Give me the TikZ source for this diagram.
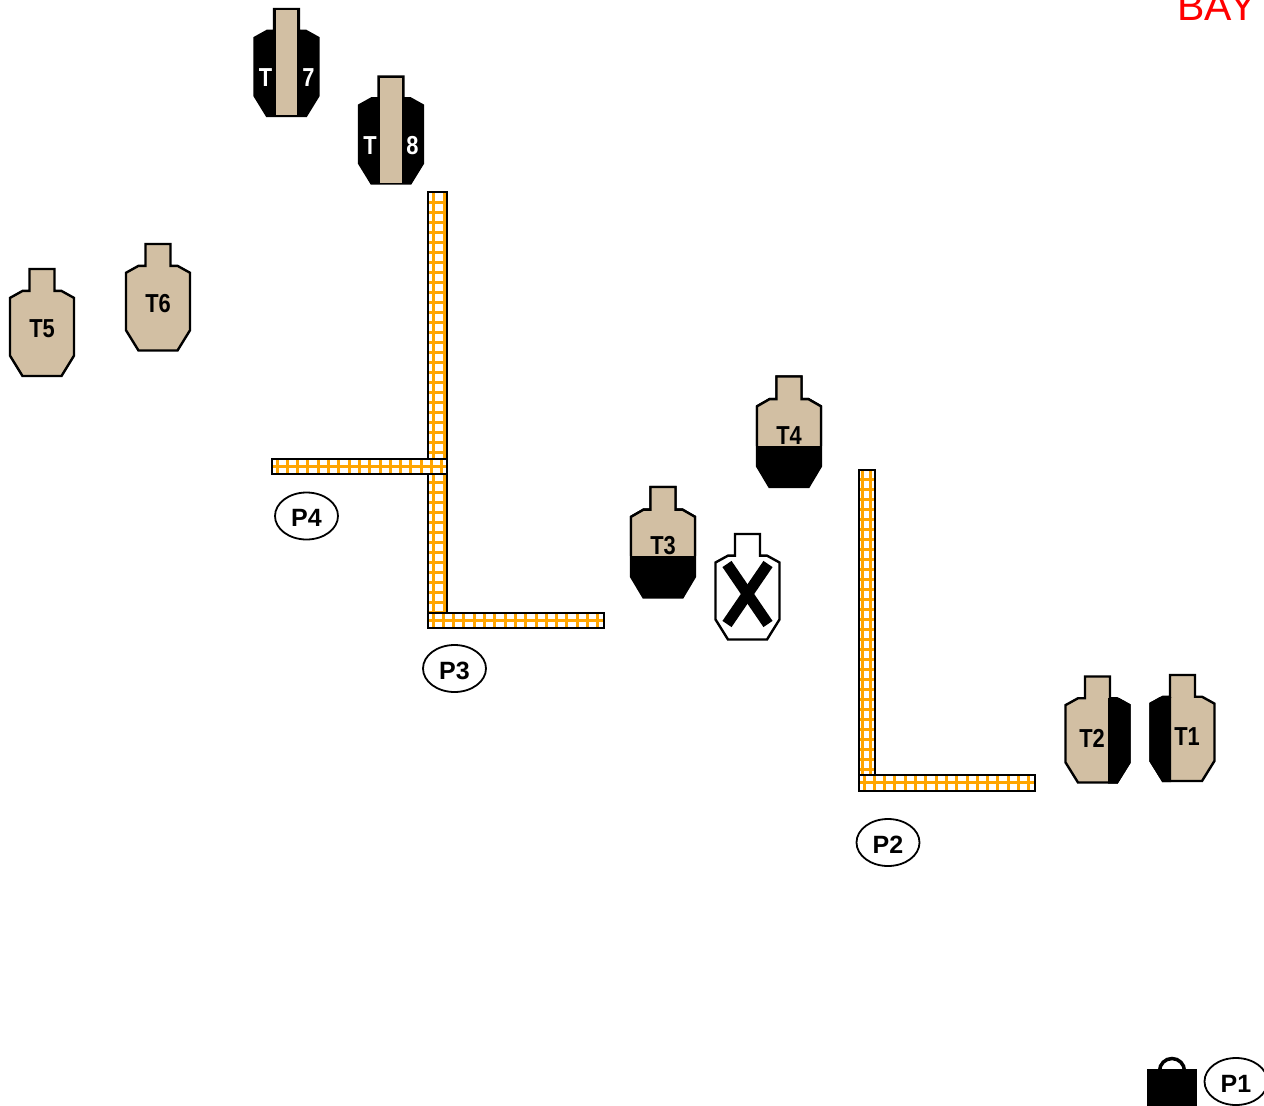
\documentclass[tikz,border=0pt]{standalone}
\usepackage{fontspec}
\setmainfont{Liberation Sans}
\definecolor{tan}{HTML}{D2BFA3}
\definecolor{grid}{HTML}{FFA500}
\tikzset{outline/.style={draw=black,line width=2.4pt,line join=miter},
  tlabel/.style={font=\bfseries\fontsize{26}{26}\selectfont,xscale=.84,transform shape,inner sep=0pt},
  plabel/.style={draw=black,line width=1.8pt,fill=white,ellipse,minimum width=63pt,minimum height=47pt,inner sep=0pt,text height=21pt,text depth=0pt,font=\bfseries\fontsize{25}{25}\selectfont}}
\usetikzlibrary{shapes.geometric}
% target outline: centre x, top y, height
\newcommand{\targetpath}[3]{(#1-12.5,#2) -- (#1+12.5,#2) -- (#1+12.5,#2+.205*#3) -- (#1+19.5,#2+.205*#3) -- (#1+32,#2+.27*#3) -- (#1+32,#2+.81*#3) -- (#1+19.5,#2+#3) -- (#1-19.5,#2+#3) -- (#1-32,#2+.81*#3) -- (#1-32,#2+.27*#3) -- (#1-19.5,#2+.205*#3) -- (#1-12.5,#2+.205*#3) -- cycle}
% wall: x1,y1,x2,y2, then first grid x, x step, first grid y, y step
\newcommand{\wallbox}[8]{
\begin{scope}
\clip (#1,#2) rectangle (#3,#4);
\fill[white] (#1,#2) rectangle (#3,#4);
\foreach \gn in {0,...,45} {
  \draw[grid,line width=3pt] (#1+#5+\gn*#6,#2) -- (#1+#5+\gn*#6,#4);
  \draw[grid,line width=3pt] (#1,#2+#7+\gn*#8) -- (#3,#2+#7+\gn*#8);
}
\end{scope}
\draw[black,line width=2.4pt] (#1,#2) rectangle (#3,#4);
}
\begin{document}
\begin{tikzpicture}[x=1pt,y=-1pt]
\useasboundingbox (0,0) rectangle (1264,1106);
% walls
\wallbox{428}{192}{447}{613}{5}{11}{10}{10}
\wallbox{272}{459}{447}{474}{5}{10.3}{7.5}{20}
\wallbox{428}{613}{604}{628}{5}{10.3}{7.5}{20}
\wallbox{859}{470}{875}{775}{3.5}{8}{9}{10}
\wallbox{859}{775}{1035}{791}{5}{10.3}{7.5}{20}
% plain targets
\draw[outline,fill=tan] \targetpath{42}{269}{107};
\draw[outline,fill=tan] \targetpath{158}{244}{106.5};
\node[tlabel] (t5) at (42,328.5) {T5};
\node[tlabel] (t6) at (158,303.5) {T6};
% half black, low
\draw[outline,fill=black] \targetpath{789}{376.5}{110.5};
\begin{scope}
\clip (700,370) rectangle (850,445);
\draw[outline,fill=tan] \targetpath{789}{376.5}{110.5};
\end{scope}
\draw[outline,fill=black] \targetpath{663}{487}{110.5};
\begin{scope}
\clip (600,480) rectangle (700,555);
\draw[outline,fill=tan] \targetpath{663}{487}{110.5};
\end{scope}
\node[tlabel] (t4) at (789,435.5) {T4};
\node[tlabel] (t3) at (663,545.5) {T3};
% half black, side
\draw[outline,fill=tan] \targetpath{1097.5}{676.5}{106};
\begin{scope}
\clip (1108,698) rectangle (1140,790);
\draw[outline,fill=black] \targetpath{1097.5}{676.5}{106};
\end{scope}
\draw[outline,fill=tan] \targetpath{1182.5}{675}{106};
\begin{scope}
\clip (1140,697) rectangle (1171,790);
\draw[outline,fill=black] \targetpath{1182.5}{675}{106};
\end{scope}
\node[tlabel] (t2) at (1092,738.5) {T2};
\node[tlabel] (t1) at (1187,736.5) {T1};
% black with tan stripe
\draw[outline,fill=black] \targetpath{286.5}{9}{107};
\fill[tan] (276,10) rectangle (297,115);
\draw[outline,fill=black] \targetpath{391}{76.5}{107};
\fill[tan] (380,78) rectangle (402,183);
\node[tlabel,white] (t7a) at (265.5,77.5) {T};
\node[tlabel,white] (t7b) at (308.5,77.5) {7};
\node[tlabel,white] (t8a) at (370,145.5) {T};
\node[tlabel,white] (t8b) at (412.5,145.5) {8};
% no-shoot
\draw[outline,fill=white] \targetpath{747.5}{534}{105.5};
\draw[black,line width=11pt] (727,564) -- (768,624);
\draw[black,line width=11pt] (768,564) -- (727,624);
% bag
\fill[black] (1147,1069) rectangle (1197,1106);
\draw[black,line width=3.5pt] (1159.5,1071) arc[start angle=180,end angle=0,x radius=12.5,y radius=-12.5];
% labels
\node[plabel] (p4) at (306.5,516) {P4};
\node[plabel] (p3) at (454.5,668.5) {P3};
\node[plabel] (p2) at (888,842.5) {P2};
\node[plabel] (p1) at (1236,1081.5) {P1};
\node[red,anchor=base,inner sep=0pt,font=\fontsize{41}{41}\selectfont] (bay) at (1217,20.5) {BAY};
\end{tikzpicture}
\end{document}
